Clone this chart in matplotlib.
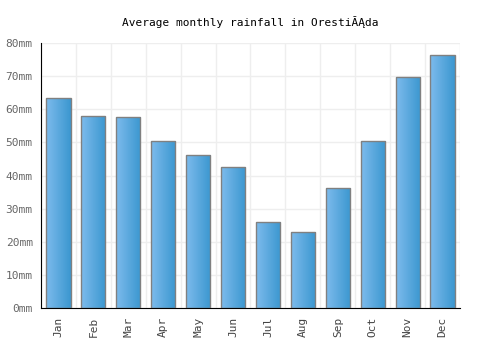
import matplotlib
matplotlib.use("Agg")
import matplotlib.pyplot as plt
import numpy as np
from matplotlib.colors import LinearSegmentedColormap

months = ["Jan", "Feb", "Mar", "Apr", "May", "Jun", "Jul", "Aug", "Sep", "Oct", "Nov", "Dec"]
rainfall = [63.3, 57.9, 57.6, 50.5, 46.3, 42.5, 26.0, 22.9, 36.2, 50.3, 69.8, 76.5]
yticks = [0, 10, 20, 30, 40, 50, 60, 70, 80]

plt.rcParams['font.family'] = ['DejaVu Sans Mono']

fig = plt.figure(figsize=(5, 3.5), dpi=100)
ax = fig.add_axes([0.082, 0.12, 0.838, 0.757])

x = np.arange(len(months))
bars = ax.bar(x, rainfall, width=0.69, color='none', edgecolor='#808080', linewidth=1.0, zorder=3)

cmap = LinearSegmentedColormap.from_list('grad', ['#7dbbec', '#3b97d0'])
grad = np.linspace(0, 1, 64).reshape(1, -1)
for b in bars:
    x0, y0 = b.get_x(), b.get_y()
    w, h = b.get_width(), b.get_height()
    im = ax.imshow(grad, cmap=cmap, aspect='auto', extent=[x0, x0 + w, y0, y0 + h], zorder=2)
    im.set_clip_path(b)

ax.set_xlim(-0.5, len(months) - 0.5)
ax.set_ylim(0, 80)
ax.set_yticks(yticks)
ax.set_yticklabels([f"{v}mm" for v in yticks], color='#666666', fontsize=8)
ax.set_xticks(x)
ax.set_xticklabels(months, rotation=90, fontsize=8, color='#444444')
ax.set_xticks(np.arange(-0.5, len(months), 1), minor=True)
ax.tick_params(axis='x', which='minor', length=0)
ax.tick_params(axis='both', which='major', length=0, pad=6)

ax.grid(True, axis='y', color='#eeeeee', linewidth=1, zorder=0)
ax.grid(True, axis='x', which='minor', color='#eeeeee', linewidth=1, zorder=0)
ax.set_axisbelow(True)

for s in ['top', 'right']:
    ax.spines[s].set_visible(False)
ax.spines['left'].set_color('black')
ax.spines['bottom'].set_color('black')

fig.text(0.5, 0.937, "Average monthly rainfall in OrestiĂĄda", ha='center', va='center', fontsize=8)

fig.savefig("out.png", dpi=100)
